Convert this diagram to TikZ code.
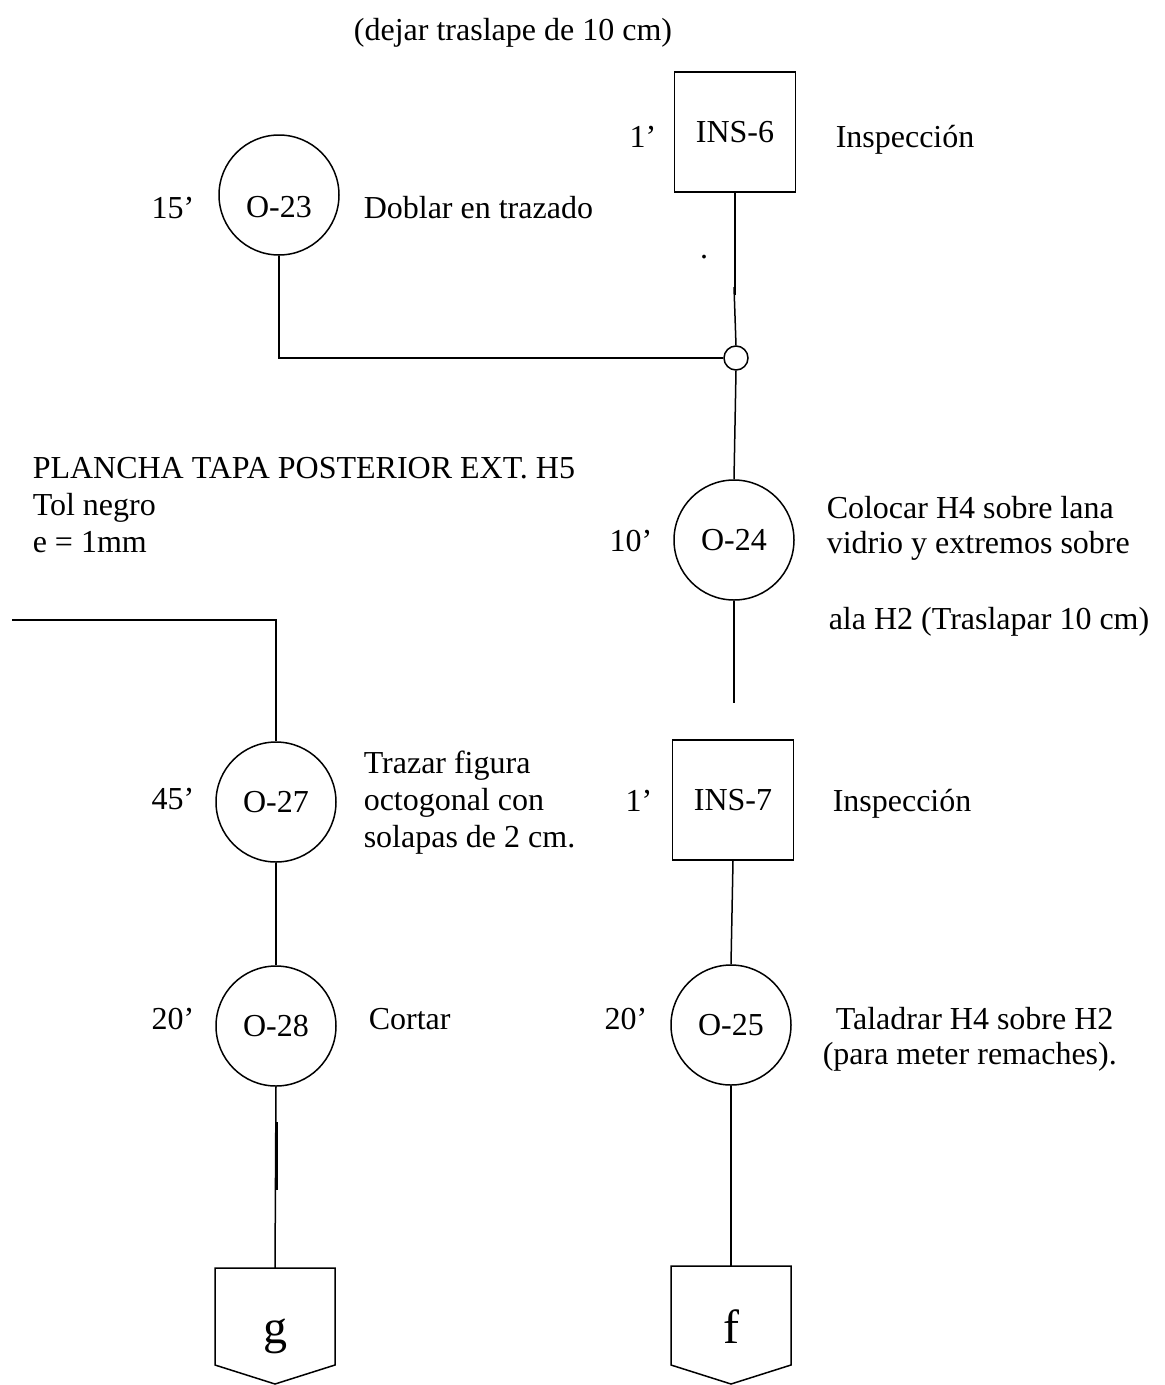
\documentclass[tikz,border=0pt]{standalone}
\usepackage{fontspec}
\setmainfont{Liberation Serif}
\begin{document}
\begin{tikzpicture}[x=1pt,y=-1pt,line width=1.5pt,
  every node/.style={font=\fontsize{32}{37}\selectfont,inner sep=0pt},
  opcirc/.style={draw,circle,minimum size=120pt},
  inspbox/.style={draw,rectangle,minimum width=121pt,minimum height=120pt},
  junct/.style={draw,circle,minimum size=24pt},
  lbl/.style={anchor=base west},
  tlbl/.style={anchor=base east},
  conn/.style={font=\fontsize{48}{52}\selectfont,anchor=base}]
\useasboundingbox (0,0) rectangle (1165,1385);

% heading
\node[anchor=base] (title) at (513,40) {(dejar traslape de 10 cm)};

% right column, upper part
\node[inspbox] (ins6) at (735,132) {INS-6};
\node[tlbl] (ins6time) at (657,147) {1’};
\node[lbl] (ins6desc) at (835,147) {Inspección};
\node[anchor=base] (stray) at (704,258) {.};

\node[junct] (j1) at (736,358) {};

% left column, upper part
\node[opcirc] (o23) at (279,195) {};
\node[anchor=base] (o23txt) at (279,217) {O-23};
\node[tlbl] (o23time) at (195,218) {15’};
\node[lbl] (o23desc) at (363,218) {Doblar en trazado};

\coordinate (k1) at (735,295);
\coordinate (k2) at (734,287);
\draw (ins6.south) -- (k1);
\draw (k2) -- (j1.north);
\draw (o23.south) |- (j1.west);

% O-24
\node[opcirc] (o24) at (734,540) {O-24};
\node[tlbl] (o24time) at (653,551) {10’};
\node[lbl] (o24d1) at (826,518) {Colocar H4 sobre lana};
\node[lbl] (o24d2) at (826,553) {vidrio y extremos sobre};
\node[lbl] (o24d3) at (828,629) {ala H2 (Traslapar 10 cm)};
\draw (j1.south) -- (o24.north);
\coordinate (e24) at (734,703);
\draw (o24.south) -- (e24);

% material
\node[lbl] (mat1) at (32,478) {PLANCHA TAPA POSTERIOR EXT. H5};
\node[lbl] (mat2) at (32,515) {Tol negro};
\node[lbl] (mat3) at (32,552) {e = 1mm};

% INS-7 and O-25
\node[inspbox] (ins7) at (733,800) {INS-7};
\node[tlbl] (ins7time) at (653,811) {1’};
\node[lbl] (ins7desc) at (832,811) {Inspección};

\node[opcirc] (o25) at (731,1025) {O-25};
\node[tlbl] (o25time) at (648,1029) {20’};
\node[lbl] (o25d1) at (835,1029) {Taladrar H4 sobre H2};
\node[lbl] (o25d2) at (822,1064) {(para meter remaches).};
\draw (ins7.south) -- (o25.north);

% off-page connector f
\coordinate (ftop) at (731,1266);
\draw (671,1266) -- (791,1266) -- (791,1365) -- (731,1384) -- (671,1365) -- cycle;
\node[conn] (fconn) at (731,1343) {f};
\draw (o25.south) -- (ftop);

% left column, lower part
\coordinate (l0) at (12,620);
\node[opcirc] (o27) at (276,802) {O-27};
\node[tlbl] (o27time) at (195,809) {45’};
\node[lbl] (o27d1) at (363,773) {Trazar figura};
\node[lbl] (o27d2) at (363,810) {octogonal con};
\node[lbl] (o27d3) at (363,847) {solapas de 2 cm.};
\draw (l0) -| (o27.north);

\node[opcirc] (o28) at (276,1026) {O-28};
\node[tlbl] (o28time) at (195,1029) {20’};
\node[lbl] (o28desc) at (368,1029) {Cortar};
\draw (o27.south) -- (o28.north);

% off-page connector g
\coordinate (gtop) at (275,1268);
\draw (215,1268) -- (335,1268) -- (335,1365) -- (275,1384) -- (215,1365) -- cycle;
\node[conn] (gconn) at (275,1343) {g};
\draw (o28.south) -- (gtop);
\draw ([xshift=1pt]o28.south |- 0,1122) -- ([xshift=1pt]o28.south |- 0,1190);
\end{tikzpicture}
\end{document}
